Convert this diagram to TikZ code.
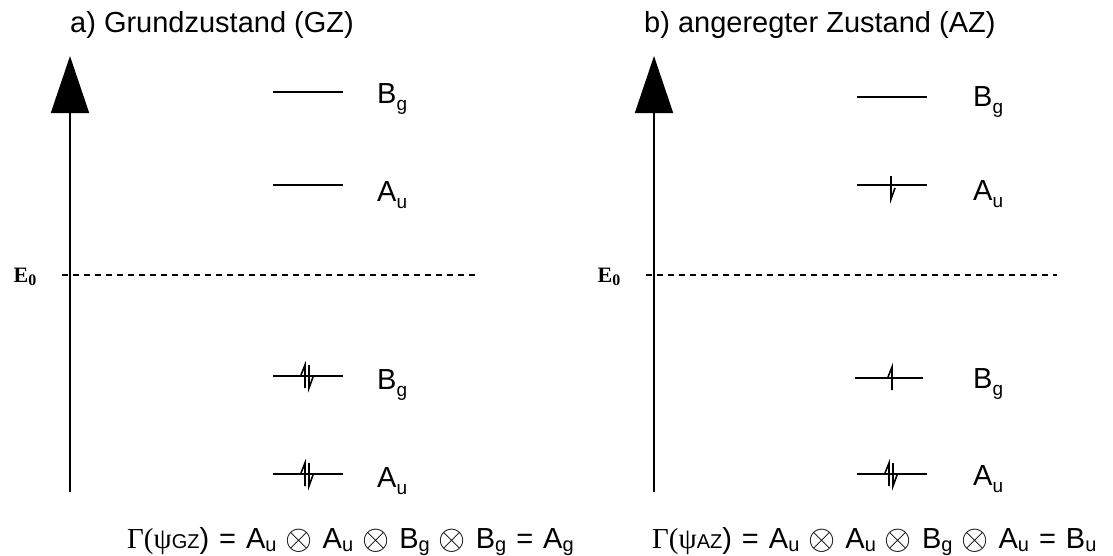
\documentclass[tikz,border=0pt]{standalone}
\usepackage{fontspec}
\setmainfont{Liberation Sans}
\newfontfamily\serifgr{Liberation Serif}
\usetikzlibrary{arrows.meta}
\newcommand{\lvlsub}[1]{\raisebox{-7pt}{\fontsize{19}{21}\selectfont #1}}
\newcommand{\fsub}[1]{\raisebox{-3pt}{\fontsize{20}{22}\selectfont #1}}
\newcommand{\fcap}[1]{{\fontsize{20}{22}\selectfont #1}}
\newcommand{\ot}{\hspace{9pt}\raisebox{-1pt}{\scalebox{1.4}{$\otimes$}}\hspace{10pt}}
\newcommand{\eqs}{\hspace{10pt}=\hspace{10pt}}
\tikzset{
  axis/.style={line width=1.8pt,-{Triangle[length=57pt,width=38pt]}},
  level/.style={line width=1.8pt},
  eline/.style={line width=1.6pt},
  zero/.style={dashed,line width=1.3pt,dash pattern=on 6pt off 5pt},
  lbl/.style={anchor=base west,inner sep=0pt,font=\fontsize{29}{33}\selectfont},
  ttl/.style={anchor=base west,inner sep=0pt,font=\fontsize{29}{33}\selectfont},
  frm/.style={anchor=base west,inner sep=0pt,font=\fontsize{29}{33}\selectfont},
  elbl/.style={inner sep=0pt,font=\serifgr\bfseries\fontsize{22}{24}\selectfont}
}
\newcommand{\ezero}{E\raisebox{-3pt}{\fontsize{16}{18}\selectfont 0}}
\newcommand{\eup}[2]{\draw[eline] (#1,#2+12) -- (#1,#2-11) -- (#1-4,#2-1);}
\newcommand{\edn}[2]{\draw[eline] (#1,#2-11) -- (#1,#2+12) -- (#1+4,#2+1);}
\begin{document}
\begin{tikzpicture}[x=1pt,y=-1pt]
\useasboundingbox (0,0) rectangle (1113,555);
% ---------- left panel ----------
\node[ttl] (ta) at (70,32) {a) Grundzustand (GZ)};
\coordinate (la0) at (70,492);
\coordinate (la1) at (70,56);
\draw[axis] (la0) -- (la1);
\coordinate (za0) at (62,275);
\coordinate (za1) at (475,275);
\draw[zero] (za0) -- (za1);
\node[elbl] (ea) at (25,277) {\ezero};
\coordinate (a1l) at (273,92);  \coordinate (a1r) at (343,92);
\coordinate (a2l) at (273,185); \coordinate (a2r) at (343,185);
\coordinate (a3l) at (273,376); \coordinate (a3r) at (343,376);
\coordinate (a4l) at (273,474); \coordinate (a4r) at (343,474);
\draw[level] (a1l) -- (a1r);
\draw[level] (a2l) -- (a2r);
\draw[level] (a3l) -- (a3r);
\draw[level] (a4l) -- (a4r);
\node[lbl] (b1) at (377,103) {B\lvlsub{g}};
\node[lbl] (b2) at (377,201) {A\lvlsub{u}};
\node[lbl] (b3) at (377,389) {B\lvlsub{g}};
\node[lbl] (b4) at (377,487) {A\lvlsub{u}};
\eup{305}{376} \edn{309}{376}
\eup{305}{474} \edn{309}{474}
\node[frm] (fa) at (127,548) {{\serifgr Γ(ψ}\fcap{GZ})\eqs A\fsub{u}\ot A\fsub{u}\ot B\fsub{g}\ot B\fsub{g}\eqs A\fsub{g}};
% ---------- right panel ----------
\node[ttl] (tb) at (644,32) {b) angeregter Zustand (AZ)};
\coordinate (lb0) at (654,492);
\coordinate (lb1) at (654,56);
\draw[axis] (lb0) -- (lb1);
\coordinate (zb0) at (646,275);
\coordinate (zb1) at (1057,275);
\draw[zero] (zb0) -- (zb1);
\node[elbl] (eb) at (609,277) {\ezero};
\coordinate (c1l) at (857,97);  \coordinate (c1r) at (927,97);
\coordinate (c2l) at (857,185); \coordinate (c2r) at (927,185);
\coordinate (c3l) at (855,378); \coordinate (c3r) at (923,378);
\coordinate (c4l) at (857,474); \coordinate (c4r) at (927,474);
\draw[level] (c1l) -- (c1r);
\draw[level] (c2l) -- (c2r);
\draw[level] (c3l) -- (c3r);
\draw[level] (c4l) -- (c4r);
\node[lbl] (d1) at (973,106) {B\lvlsub{g}};
\node[lbl] (d2) at (973,200) {A\lvlsub{u}};
\node[lbl] (d3) at (973,388) {B\lvlsub{g}};
\node[lbl] (d4) at (973,485) {A\lvlsub{u}};
\edn{891}{187}
\eup{892}{378}
\eup{889}{474} \edn{893}{474}
\node[frm] (fb) at (652,548) {{\serifgr Γ(ψ}\fcap{AZ})\eqs A\fsub{u}\ot A\fsub{u}\ot B\fsub{g}\ot A\fsub{u}\eqs B\fsub{u}};
\end{tikzpicture}
\end{document}
